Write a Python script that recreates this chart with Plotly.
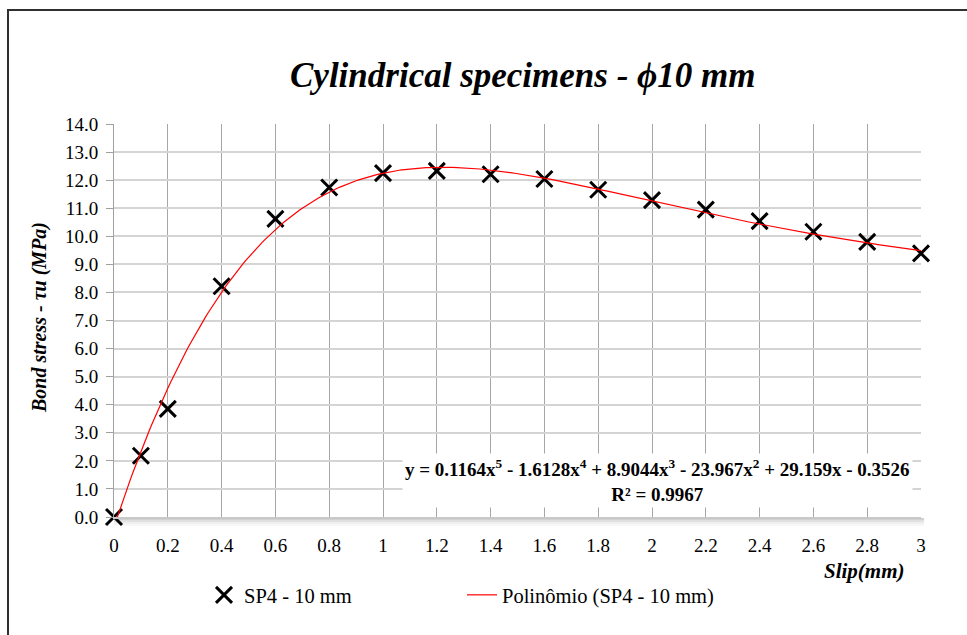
import numpy as np
import plotly.graph_objects as go

# Measured bond stress vs slip, specimen SP4 (10 mm bar)
slip_mm = [0.0, 0.1, 0.2, 0.4, 0.6, 0.8, 1.0, 1.2, 1.4, 1.6, 1.8, 2.0, 2.2, 2.4, 2.6, 2.8, 3.0]
bond_stress = [0.0, 2.18, 3.85, 8.22, 10.62, 11.74, 12.25, 12.33, 12.21, 12.04, 11.66,
               11.29, 10.95, 10.54, 10.16, 9.80, 9.39]

# 5th-order polynomial trendline coefficients (highest power first)
poly_coef = [0.1164, -1.6128, 8.9044, -23.967, 29.159, -0.3526]
r_squared = 0.9967

x_tick_vals = [0, 0.2, 0.4, 0.6, 0.8, 1.0, 1.2, 1.4, 1.6, 1.8, 2.0, 2.2, 2.4, 2.6, 2.8, 3.0]
x_tick_text = ["0", "0.2", "0.4", "0.6", "0.8", "1", "1.2", "1.4", "1.6", "1.8", "2",
               "2.2", "2.4", "2.6", "2.8", "3"]
y_tick_vals = list(range(0, 15))
y_tick_text = [f"{v:.1f}" for v in y_tick_vals]

series_name = "SP4 - 10 mm"
trend_name = "Polinômio (SP4 - 10 mm)"

# canvas and plot-area geometry in pixels
W, H = 967, 635
L, R, T, B = 114, 921, 124, 517


def px(x):
    return (x - L) / (R - L)


def py(y):
    return (B - y) / (B - T)


SERIF = "Liberation Serif, Times New Roman, serif"

x_fit = np.linspace(0, 3, 301)
y_fit = np.polyval(poly_coef, x_fit)

fig = go.Figure()

fig.add_trace(go.Scatter(
    x=slip_mm, y=bond_stress, mode="markers", name=series_name,
    marker=dict(symbol="x-thin", size=16, color="black",
                line=dict(width=3, color="black")),
    cliponaxis=False, legend="legend",
))
fig.add_trace(go.Scatter(
    x=x_fit, y=y_fit, mode="lines", name=trend_name,
    line=dict(color="#ff0000", width=1.2), legend="legend2",
))

# shadow under the horizontal axis
for off, op in [(2, 0.35), (4, 0.22), (6, 0.12), (8, 0.05)]:
    fig.add_shape(type="line", xref="paper", yref="paper",
                  x0=px(L), x1=px(R + 3), y0=py(B + off), y1=py(B + off),
                  line=dict(color=f"rgba(120,120,120,{op})", width=2), layer="below")

# outer frame of the chart
fig.add_shape(type="rect", xref="paper", yref="paper",
              x0=px(8), x1=px(W + 10), y0=py(H + 10), y1=py(10),
              line=dict(color="#303030", width=2))

fig.add_annotation(
    text="<b><i>Cylindrical specimens - ϕ10 mm</i></b>",
    xref="paper", yref="paper", x=px(523), y=py(75),
    showarrow=False, font=dict(family=SERIF, size=35, color="black"),
    xanchor="center", yanchor="middle",
)
fig.add_annotation(
    text="<b><i>Bond stress - τu (MPa)</i></b>",
    xref="paper", yref="paper", x=px(39), y=py(318), textangle=-90,
    showarrow=False, font=dict(family=SERIF, size=20, color="black"),
    xanchor="center", yanchor="middle",
)
fig.add_annotation(
    text="<b><i>Slip(mm)</i></b>",
    xref="paper", yref="paper", x=px(864), y=py(571),
    showarrow=False, font=dict(family=SERIF, size=21, color="black"),
    xanchor="center", yanchor="middle",
)

c = poly_coef
eq = (f"y = {c[0]:.4f}x<sup>5</sup> - {abs(c[1]):.4f}x<sup>4</sup> + {c[2]:.4f}x<sup>3</sup>"
      f" - {abs(c[3]):.3f}x<sup>2</sup> + {c[4]:.3f}x - {abs(c[5]):.4f}")
fig.add_annotation(
    text=f"<b>{eq}<br>R² = {r_squared:.4f}</b>",
    xref="paper", yref="paper", x=px(657), y=py(480),
    showarrow=False, font=dict(family=SERIF, size=19, color="black"),
    xanchor="center", yanchor="middle", align="center",
    bgcolor="white", borderpad=2,
)

legend_font = dict(family=SERIF, size=20.5, color="black")
fig.update_layout(
    width=W, height=H,
    margin=dict(l=L, r=W - R, t=T, b=H - B),
    paper_bgcolor="white", plot_bgcolor="white",
    font=dict(family=SERIF, size=19, color="black"),
    showlegend=True,
    legend=dict(x=px(204), y=py(595), xanchor="left", yanchor="middle",
                orientation="h", font=legend_font, bgcolor="rgba(0,0,0,0)"),
    legend2=dict(x=px(462), y=py(595), xanchor="left", yanchor="middle",
                 orientation="h", font=legend_font, bgcolor="rgba(0,0,0,0)"),
    xaxis=dict(range=[0, 3], tickvals=x_tick_vals, ticktext=x_tick_text,
               showgrid=True, gridcolor="#a6a6a6", gridwidth=1,
               showline=True, linecolor="#c8c8c8", linewidth=2,
               ticks="", ticklabelstandoff=10, zeroline=False, fixedrange=True,
               tickfont=dict(family=SERIF, size=19)),
    yaxis=dict(range=[0, 14], tickvals=y_tick_vals, ticktext=y_tick_text,
               showgrid=True, gridcolor="#d4d4d4", gridwidth=1.6,
               showline=True, linecolor="#a0a0a0", linewidth=1,
               ticks="outside", ticklen=7, tickcolor="#a0a0a0",
               ticklabelstandoff=4, zeroline=False, fixedrange=True,
               tickfont=dict(family=SERIF, size=19)),
)

fig.write_html("out.html")
